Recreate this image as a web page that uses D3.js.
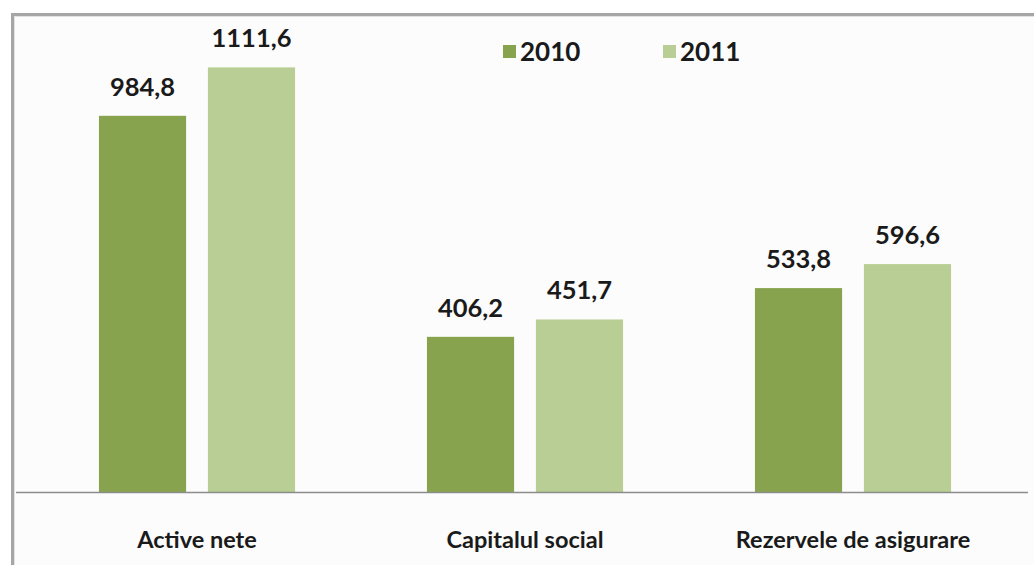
<!DOCTYPE html>
<html><head><meta charset="utf-8">
<script src="https://cdn.jsdelivr.net/npm/d3@7"></script>
<style>
html,body{margin:0;padding:0;background:#fff;}
svg{display:block;}
</style></head>
<body>
<svg id="chart" width="1034" height="565"></svg>
<script>
const categories = ["Active nete", "Capitalul social", "Rezervele de asigurare"];
const seriesNames = ["2010", "2011"];
const values2010 = [984.8, 406.2, 533.8];
const values2011 = [1111.6, 451.7, 596.6];
const colors = ["#88a34d", "#b8ce94"];

const data = categories.map((c, i) => ({cat: c, vals: [values2010[i], values2011[i]]}));
const svg = d3.select("#chart");
const W = 1034, H = 565;

// frame
svg.append("rect").attr("x", 0).attr("y", 0).attr("width", W).attr("height", H).attr("fill", "#ffffff");
svg.append("rect").attr("x", 12).attr("y", 14).attr("width", W).attr("height", H).attr("fill", "#fcfcfc");
svg.append("path").attr("d", `M12.5,${H} V14.5 H${W}`).attr("fill", "none").attr("stroke", "#a6a6a6").attr("stroke-width", 3);
svg.append("path").attr("d", `M14.5,${H} V16.5 H${W}`).attr("fill", "none").attr("stroke", "#e2e2e2").attr("stroke-width", 1);

const baseY = 492;
const x0 = d3.scaleBand().domain(categories).range([33, 1017]).paddingInner(0.402).paddingOuter(0.201);
const x1 = d3.scaleBand().domain(seriesNames).range([0, x0.bandwidth()]).paddingInner(0.2).paddingOuter(0);
const y = d3.scaleLinear().domain([0, 1000]).range([baseY, baseY - 382]);

const g = svg.append("g");
const groups = g.selectAll("g.grp").data(data).join("g").attr("class", "grp")
  .attr("transform", d => `translate(${x0(d.cat)},0)`);

groups.selectAll("rect").data(d => d.vals.map((v, i) => ({s: seriesNames[i], v, i})))
  .join("rect")
  .attr("x", d => x1(d.s))
  .attr("y", d => y(d.v))
  .attr("width", x1.bandwidth())
  .attr("height", d => baseY - y(d.v))
  .attr("fill", d => colors[d.i]);

const fmt = v => d3.format(".1f")(v).replace(".", ",");
groups.selectAll("text.val").data(d => d.vals.map((v, i) => ({s: seriesNames[i], v, i})))
  .join("text").attr("class", "val")
  .attr("x", d => x1(d.s) + x1.bandwidth() / 2)
  .attr("y", d => y(d.v) - 20)
  .attr("text-anchor", "middle")
  .attr("font-family", "Lato, 'Open Sans', sans-serif")
  .attr("font-weight", "bold")
  .attr("font-size", 25.5)
  .attr("fill", "#1a1a1a")
  .text(d => fmt(d.v));

// baseline axis
const axis = d3.axisBottom(x0).tickSize(0).tickPadding(39);
const ax = svg.append("g").attr("transform", `translate(0,${baseY})`).call(axis);
ax.select(".domain").attr("d", `M16,0.5H1028`).attr("stroke", "#8c8c8c").attr("stroke-width", 1.5);
ax.selectAll("text")
  .attr("font-family", "Lato, sans-serif")
  .attr("font-weight", "bold")
  .attr("font-size", 23.5)
  .attr("fill", "#1a1a1a");

// legend
const lx = [503, 663];
const leg = svg.append("g").selectAll("g").data(seriesNames).join("g")
  .attr("transform", (d, i) => `translate(${lx[i]},45)`);
leg.append("rect").attr("width", 13).attr("height", 13).attr("fill", (d, i) => colors[i]);
leg.append("text").attr("x", 17).attr("y", 16)
  .attr("font-family", "Lato, 'Open Sans', sans-serif")
  .attr("font-weight", "bold").attr("font-size", 26).attr("fill", "#1a1a1a")
  .text(d => d);
</script>
</body></html>
